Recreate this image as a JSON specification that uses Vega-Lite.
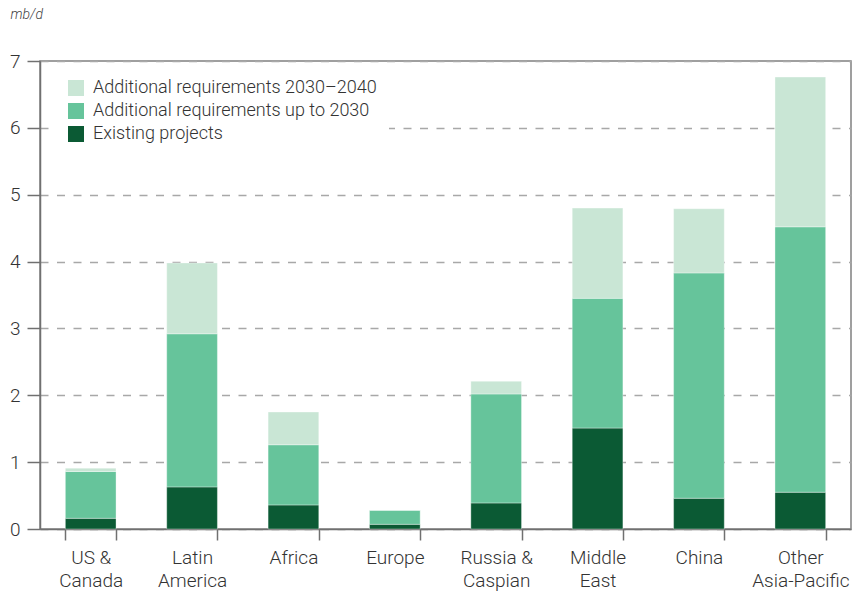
{
  "$schema": "https://vega.github.io/schema/vega-lite/v6.json",
  "width": 811,
  "height": 468,
  "autosize": "none",
  "padding": {"left": 40, "top": 61, "right": 4, "bottom": 67},
  "background": "#ffffff",
  "config": {
    "font": "Roboto",
    "view": {"stroke": "#808080", "strokeWidth": 1.5},
    "axis": {"labelFont": "Roboto", "labelFontWeight": 300, "labelColor": "#333333", "domainColor": "#707070", "domainWidth": 1.5, "tickColor": "#707070", "tickWidth": 1.5}
  },
  "data": {
    "values": [
      {"region": "US & Canada", "series": "Existing projects", "value": 0.16},
      {"region": "US & Canada", "series": "Additional requirements up to 2030", "value": 0.70},
      {"region": "US & Canada", "series": "Additional requirements 2030–2040", "value": 0.05},
      {"region": "Latin America", "series": "Existing projects", "value": 0.63},
      {"region": "Latin America", "series": "Additional requirements up to 2030", "value": 2.29},
      {"region": "Latin America", "series": "Additional requirements 2030–2040", "value": 1.06},
      {"region": "Africa", "series": "Existing projects", "value": 0.36},
      {"region": "Africa", "series": "Additional requirements up to 2030", "value": 0.90},
      {"region": "Africa", "series": "Additional requirements 2030–2040", "value": 0.49},
      {"region": "Europe", "series": "Existing projects", "value": 0.07},
      {"region": "Europe", "series": "Additional requirements up to 2030", "value": 0.21},
      {"region": "Europe", "series": "Additional requirements 2030–2040", "value": 0.0},
      {"region": "Russia & Caspian", "series": "Existing projects", "value": 0.39},
      {"region": "Russia & Caspian", "series": "Additional requirements up to 2030", "value": 1.63},
      {"region": "Russia & Caspian", "series": "Additional requirements 2030–2040", "value": 0.19},
      {"region": "Middle East", "series": "Existing projects", "value": 1.51},
      {"region": "Middle East", "series": "Additional requirements up to 2030", "value": 1.94},
      {"region": "Middle East", "series": "Additional requirements 2030–2040", "value": 1.35},
      {"region": "China", "series": "Existing projects", "value": 0.46},
      {"region": "China", "series": "Additional requirements up to 2030", "value": 3.37},
      {"region": "China", "series": "Additional requirements 2030–2040", "value": 0.96},
      {"region": "Other Asia-Pacific", "series": "Existing projects", "value": 0.55},
      {"region": "Other Asia-Pacific", "series": "Additional requirements up to 2030", "value": 3.97},
      {"region": "Other Asia-Pacific", "series": "Additional requirements 2030–2040", "value": 2.24}
    ]
  },
  "mark": {"type": "bar", "stroke": "#ffffff", "strokeWidth": 0.6, "strokeOpacity": 0.6},
  "encoding": {
    "x": {
      "field": "region",
      "type": "nominal",
      "sort": null,
      "scale": {"paddingInner": 0.5, "paddingOuter": 0.25},
      "axis": {
        "title": null,
        "labelAngle": 0,
        "tickBand": "extent",
        "tickSize": 11,
        "labelPadding": 8,
        "labelFontSize": 19,
        "labelLineHeight": 23.5,
        "labelBaseline": "top",
        "labelExpr": "({'US & Canada': ['US &', 'Canada'], 'Latin America': ['Latin', 'America'], 'Russia & Caspian': ['Russia &', 'Caspian'], 'Middle East': ['Middle', 'East'], 'Other Asia-Pacific': ['Other', 'Asia-Pacific']})[datum.label] || datum.label"
      }
    },
    "y": {
      "field": "value",
      "type": "quantitative",
      "stack": "zero",
      "scale": {"domain": [0, 7], "nice": false},
      "axis": {
        "values": [0, 1, 2, 3, 4, 5, 6, 7],
        "tickSize": 13,
        "labelPadding": 7,
        "labelFontSize": 19,
        "grid": true,
        "gridColor": "#a8a8a8",
        "gridWidth": 1.5,
        "gridDash": [8, 8.5],
        "title": "mb/d",
        "titleAngle": 0,
        "titleX": -30,
        "titleY": -43,
        "titleAlign": "left",
        "titleBaseline": "alphabetic",
        "titleFont": "Roboto",
        "titleFontStyle": "italic",
        "titleFontWeight": 300,
        "titleFontSize": 14,
        "titleColor": "#444444"
      }
    },
    "color": {
      "field": "series",
      "type": "nominal",
      "scale": {
        "domain": ["Additional requirements 2030–2040", "Additional requirements up to 2030", "Existing projects"],
        "range": ["#c9e6d5", "#66c49b", "#0b5a34"]
      },
      "legend": {
        "title": null,
        "orient": "none",
        "legendX": 15,
        "legendY": 6,
        "padding": 12,
        "fillColor": "#ffffff",
        "symbolType": "square",
        "symbolSize": 256,
        "symbolStrokeWidth": 0,
        "labelFont": "Roboto",
        "labelFontWeight": 300,
        "labelFontSize": 18,
        "labelColor": "#333333",
        "labelOffset": 8,
        "rowPadding": 5,
        "labelLimit": 400
      }
    },
    "order": {"field": "series", "sort": "descending"}
  }
}
